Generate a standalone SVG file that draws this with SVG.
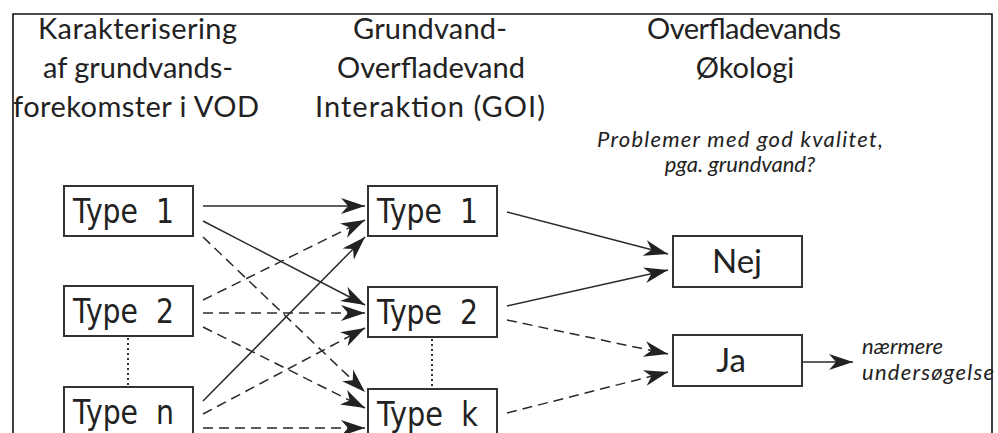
<svg xmlns="http://www.w3.org/2000/svg" width="998" height="433" viewBox="0 0 998 433">
  <style>
    .hdr { font-family: Lato, "Liberation Sans", sans-serif; font-size: 29px; fill: #222; text-anchor: middle; }
    .note { font-family: Lato, "Liberation Sans", sans-serif; font-size: 22px; font-style: italic; fill: #222; }
    .box { fill: #fff; stroke: #333; stroke-width: 2; }
    .lbl { font-family: "DejaVu Sans", "Liberation Sans", sans-serif; font-size: 33px; fill: #222; white-space: pre; }
    .ans { font-family: Lato, "Liberation Sans", sans-serif; font-size: 33px; fill: #222; text-anchor: middle; }
    .solid { fill: none; stroke: #2a2a2a; stroke-width: 1.5; marker-end: url(#head); }
    .dash { fill: none; stroke: #2a2a2a; stroke-width: 1.5; stroke-dasharray: 10 6; marker-end: url(#head); }
    .dots { fill: none; stroke: #333; stroke-width: 2; stroke-dasharray: 2 3; }
  </style>
  <defs>
    <marker id="head" markerUnits="userSpaceOnUse" markerWidth="26" markerHeight="18" refX="24" refY="8" orient="auto">
      <path d="M0,0 L24,8 L0,16 L7,8 z" fill="#222"/>
    </marker>
  </defs>

  <rect width="998" height="433" fill="#fff"/>
  <!-- outer frame (bottom edge runs past the canvas) -->
  <path d="M13,460 V14 H992 V460" fill="none" stroke="#111" stroke-width="1.6"/>

  <!-- column headings -->
  <g id="heading-left">
    <text class="hdr" x="137.5" y="39" textLength="199">Karakterisering</text>
    <text class="hdr" x="138" y="78" textLength="190">af grundvands-</text>
    <text class="hdr" x="136" y="117" textLength="246">forekomster i VOD</text>
  </g>
  <g id="heading-middle">
    <text class="hdr" x="430" y="39" textLength="154">Grundvand-</text>
    <text class="hdr" x="431" y="78" textLength="188">Overfladevand</text>
    <text class="hdr" x="430" y="117" textLength="230">Interaktion (GOI)</text>
  </g>
  <g id="heading-right">
    <text class="hdr" x="744" y="39" textLength="194">Overfladevands</text>
    <text class="hdr" x="745" y="78">Økologi</text>
    <text class="note" x="740" y="147" text-anchor="middle" textLength="286">Problemer med god kvalitet,</text>
    <text class="note" x="740" y="172" text-anchor="middle">pga. grundvand?</text>
  </g>

  <!-- connectors -->
  <g id="connectors">
    <path class="solid" d="M203,206 L365,206"/>
    <path class="solid" d="M203,221 L365,305"/>
    <path class="dash" d="M203,237 L365,392"/>
    <path class="dash" d="M203,300 L365,220"/>
    <path class="dash" d="M203,313 L365,313"/>
    <path class="dash" d="M203,327 L365,408"/>
    <path class="solid" d="M203,401 L365,237"/>
    <path class="dash" d="M203,414 L365,328"/>
    <path class="dash" d="M203,428 L365,428"/>
    <path class="solid" d="M507,212 L668,254"/>
    <path class="solid" d="M507,306 L668,270"/>
    <path class="dash" d="M507,320 L668,354"/>
    <path class="dash" d="M507,413 L668,372"/>
    <path class="solid" d="M802,362 L853,362"/>
    <path class="dots" d="M128,338 V386"/>
    <path class="dots" d="M432,339 V388"/>
  </g>

  <!-- source types -->
  <g id="src-type-1">
    <rect class="box" x="64" y="186" width="129" height="50"/>
    <text class="lbl" x="73" y="223" textLength="101" lengthAdjust="spacingAndGlyphs">Type  1</text>
  </g>
  <g id="src-type-2">
    <rect class="box" x="64" y="286" width="129" height="50"/>
    <text class="lbl" x="73" y="323" textLength="101" lengthAdjust="spacingAndGlyphs">Type  2</text>
  </g>
  <g id="src-type-n">
    <rect class="box" x="64" y="387" width="129" height="60"/>
    <text class="lbl" x="73" y="424" textLength="101" lengthAdjust="spacingAndGlyphs">Type  n</text>
  </g>

  <!-- interaction types -->
  <g id="goi-type-1">
    <rect class="box" x="368" y="186" width="129" height="50"/>
    <text class="lbl" x="377" y="223" textLength="101" lengthAdjust="spacingAndGlyphs">Type  1</text>
  </g>
  <g id="goi-type-2">
    <rect class="box" x="368" y="287" width="129" height="50"/>
    <text class="lbl" x="377" y="324" textLength="101" lengthAdjust="spacingAndGlyphs">Type  2</text>
  </g>
  <g id="goi-type-k">
    <rect class="box" x="368" y="389" width="129" height="60"/>
    <text class="lbl" x="377" y="426" textLength="101" lengthAdjust="spacingAndGlyphs">Type  k</text>
  </g>

  <!-- outcomes -->
  <g id="answer-nej">
    <rect class="box" x="673" y="236" width="129" height="51"/>
    <text class="ans" x="737" y="273">Nej</text>
  </g>
  <g id="answer-ja">
    <rect class="box" x="673" y="335" width="129" height="51"/>
    <text class="ans" x="731" y="372">Ja</text>
  </g>
  <g id="followup">
    <text class="note" x="862" y="354">nærmere</text>
    <text class="note" x="862" y="380" textLength="132">undersøgelse</text>
  </g>
</svg>
